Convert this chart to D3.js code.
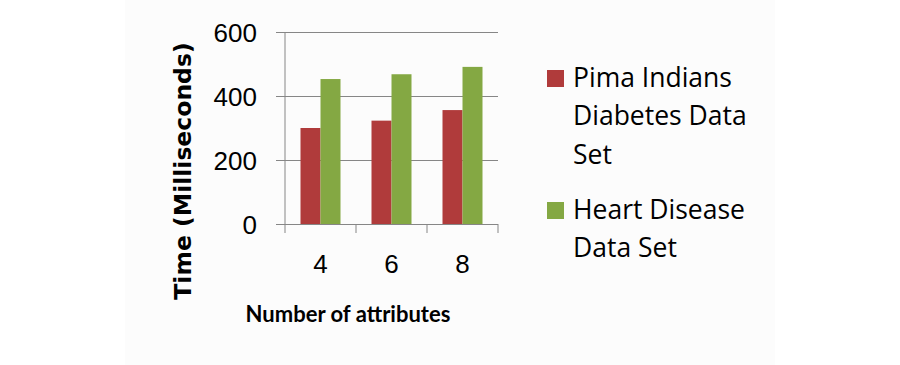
<!DOCTYPE html>
<html>
<head>
<meta charset="utf-8">
<script src="https://cdn.jsdelivr.net/npm/d3@7"></script>
<style>
  body { margin: 0; background: #fff; }
  svg { font-family: "Open Sans", sans-serif; }
</style>
</head>
<body>
<div id="chart"></div>
<script>
const categories = ['4', '6', '8'];
const seriesNames = ['Pima Indians Diabetes Data Set', 'Heart Disease Data Set'];
const pimaValues = [300, 323, 356];
const heartValues = [453, 468, 491];
const yTicks = [0, 200, 400, 600];
const legendLines = [['Pima Indians', 'Diabetes Data', 'Set'], ['Heart Disease', 'Data Set']];
const colors = ['#B03B3B', '#84A843'];

const width = 900;
const height = 365;
const plot = { left: 285, right: 498, top: 32, bottom: 224 };

const svg = d3.select('#chart')
  .append('svg')
  .attr('width', width)
  .attr('height', height);

// faint panel behind the chart
svg.append('rect')
  .attr('x', 125)
  .attr('y', 0)
  .attr('width', 650)
  .attr('height', height)
  .attr('fill', '#fcfcfc');

const x = d3.scaleBand()
  .domain(categories)
  .range([plot.left, plot.right]);

const xSub = d3.scaleBand()
  .domain(seriesNames)
  .range([0, x.bandwidth()])
  .paddingOuter(0.775);

const y = d3.scaleLinear()
  .domain([0, 600])
  .range([plot.bottom, plot.top]);

// gridlines + y ticks
const yAxis = d3.axisLeft(y)
  .tickValues(yTicks)
  .tickSizeInner(-(plot.right - plot.left))
  .tickSizeOuter(0)
  .tickPadding(28);

const yG = svg.append('g')
  .attr('transform', `translate(${plot.left},0)`)
  .call(yAxis);

yG.select('.domain').remove();
yG.selectAll('line')
  .attr('x1', -9)
  .attr('stroke', '#868686');
yG.selectAll('text')
  .attr('font-size', 26)
  .attr('fill', '#000')
  .attr('dy', '0.36em');

const rows = categories.map((c, i) => ({ cat: c, values: [pimaValues[i], heartValues[i]] }));

svg.append('g')
  .selectAll('g')
  .data(rows)
  .join('g')
    .attr('transform', d => `translate(${x(d.cat)},0)`)
  .selectAll('rect')
  .data(d => d.values.map((v, j) => ({ v, name: seriesNames[j], j })))
  .join('rect')
    .attr('x', d => xSub(d.name))
    .attr('width', xSub.bandwidth())
    .attr('y', d => y(d.v))
    .attr('height', d => y(0) - y(d.v))
    .attr('fill', d => colors[d.j]);

// axis lines
svg.append('line')
  .attr('x1', plot.left).attr('x2', plot.left)
  .attr('y1', plot.top).attr('y2', plot.bottom)
  .attr('stroke', '#868686');
svg.append('line')
  .attr('x1', plot.left).attr('x2', plot.right)
  .attr('y1', plot.bottom + 0.5).attr('y2', plot.bottom + 0.5)
  .attr('stroke', '#868686');

// x ticks at category boundaries
const bounds = categories.map(c => x(c)).concat([x.range()[1]]);
svg.append('g')
  .selectAll('line')
  .data(bounds)
  .join('line')
    .attr('x1', d => d).attr('x2', d => d)
    .attr('y1', plot.bottom).attr('y2', plot.bottom + 9)
    .attr('stroke', '#868686');

const xAxis = d3.axisBottom(x).tickSize(0).tickPadding(0);
const xG = svg.append('g')
  .attr('transform', `translate(0,${plot.bottom})`)
  .call(xAxis);
xG.select('.domain').remove();
xG.selectAll('text')
  .attr('font-size', 26)
  .attr('fill', '#000')
  .attr('dy', null)
  .attr('y', 49);

// axis titles
svg.append('text')
  .attr('transform', `translate(191,171) rotate(-90)`)
  .attr('text-anchor', 'middle')
  .style('font-family', '"DejaVu Sans", sans-serif')
  .attr('font-size', 23.5)
  .attr('font-weight', 'bold')
  .text('Time (Milliseconds)');

svg.append('text')
  .attr('x', 348)
  .attr('y', 322)
  .attr('text-anchor', 'middle')
  .style('font-family', 'Lato, sans-serif')
  .attr('font-size', 22)
  .attr('font-weight', 'bold')
  .text('Number of attributes');

// legend
const legendTop = [70, 202];
const legend = svg.append('g');
legendLines.forEach((lines, i) => {
  legend.append('rect')
    .attr('x', 547)
    .attr('y', legendTop[i])
    .attr('width', 17)
    .attr('height', 17)
    .attr('fill', colors[i]);
  legend.append('text')
    .attr('font-size', 26.5)
    .selectAll('tspan')
    .data(lines)
    .join('tspan')
      .attr('x', 573)
      .attr('y', (d, k) => legendTop[i] + 17 + k * 38.3)
      .text(d => d);
});
</script>
</body>
</html>
